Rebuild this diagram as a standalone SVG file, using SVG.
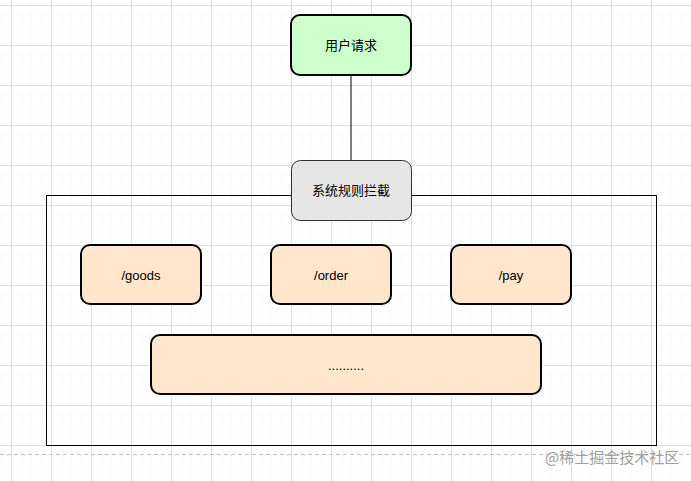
<svg xmlns="http://www.w3.org/2000/svg" width="691" height="481" viewBox="0 0 691 481">
<defs>
<pattern id="minor" x="1" y="5" width="10" height="10" patternUnits="userSpaceOnUse">
<path d="M0 0H10M0 0V10" fill="none" stroke="#f6f6f6" stroke-width="1"/>
</pattern>
<pattern id="major" x="11" y="5" width="40" height="40" patternUnits="userSpaceOnUse">
<path d="M0 0.5H40M0.5 0V40" fill="none" stroke="#e0e0e0" stroke-width="1"/>
</pattern>
</defs>
<style>
.t{font-family:"Liberation Sans","Noto Sans CJK SC",Arial,sans-serif;font-size:13px;fill:#000;text-anchor:middle;dominant-baseline:central}
.route{fill:#ffe6cc;stroke:#000;stroke-width:2}
.wm{font-family:"Noto Sans CJK SC",sans-serif;font-size:15px;fill:#a0a0a0}
</style>
<rect width="691" height="481" fill="#ffffff"/>
<rect width="691" height="481" fill="url(#minor)"/>
<rect width="691" height="481" fill="url(#major)"/>
<line x1="0" y1="454.5" x2="691" y2="454.5" stroke="#c8c8c8" stroke-dasharray="4 3"/>
<g id="connectors">
<line x1="351" y1="75" x2="351" y2="160" stroke="#000" stroke-width="1"/>
</g>
<g id="container">
<rect x="46.5" y="195.5" width="610" height="250" fill="none" stroke="#000" stroke-width="1"/>
</g>
<g id="user-request">
<rect x="291" y="15" width="120" height="60" rx="9" fill="#ccffcc" stroke="#000" stroke-width="2"/>
<text class="t" x="351" y="45">用户请求</text>
</g>
<g id="rule-intercept">
<rect x="291.5" y="160.5" width="120" height="60" rx="9" fill="#e6e6e6" stroke="#333" stroke-width="1"/>
<text class="t" x="351" y="190">系统规则拦截</text>
</g>
<g id="goods">
<rect class="route" x="81" y="245" width="120" height="59" rx="9"/>
<text class="t" x="141" y="275">/goods</text>
</g>
<g id="order">
<rect class="route" x="271" y="245" width="120" height="59" rx="9"/>
<text class="t" x="331" y="275">/order</text>
</g>
<g id="pay">
<rect class="route" x="451" y="245" width="120" height="59" rx="9"/>
<text class="t" x="511" y="275">/pay</text>
</g>
<g id="more">
<rect class="route" x="151" y="335" width="390" height="59" rx="9"/>
<text class="t" x="346" y="365">..........</text>
</g>
<text class="wm" x="545" y="463">@稀土掘金技术社区</text>
</svg>
